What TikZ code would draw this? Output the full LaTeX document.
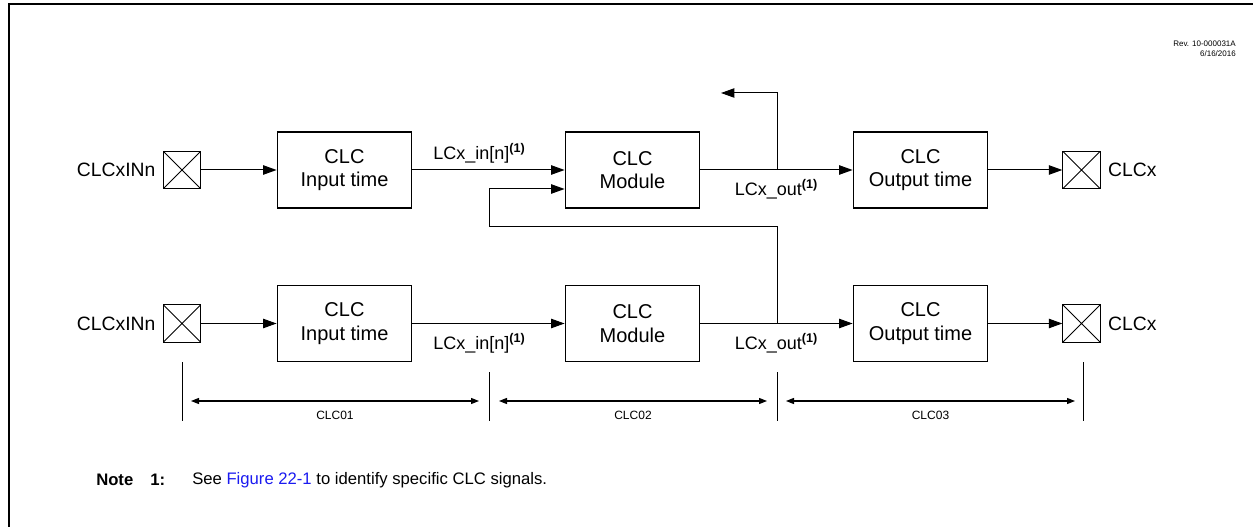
\documentclass[tikz,border=0pt]{standalone}
\usepackage{fontspec}
\setmainfont{Liberation Sans}
\usetikzlibrary{arrows.meta,positioning,calc}
\definecolor{figlink}{HTML}{1A1AF0}
\definecolor{framegrey}{HTML}{000000}

\begin{document}
\begin{tikzpicture}[x=0.75pt,y=-0.75pt,
  blk/.style={draw,line width=0.9pt,minimum width=101pt,minimum height=57pt,align=center,
              font=\fontsize{15}{17.5}\selectfont,inner sep=0pt},
  pin/.style={draw,line width=0.8pt,minimum size=28pt,inner sep=0pt,
              path picture={\draw[line width=0.6pt] (path picture bounding box.north west) -- (path picture bounding box.south east)
                                  (path picture bounding box.north east) -- (path picture bounding box.south west);}},
  pinlbl/.style={font=\fontsize{14.5}{16}\selectfont},
  sig/.style={-{Triangle[length=10pt,width=7pt]},line width=0.75pt},
  sglbl/.style={font=\fontsize{13.5}{15}\selectfont,inner sep=1pt},
  span/.style={{Triangle[length=6pt,width=4.5pt]}-{Triangle[length=6pt,width=4.5pt]},line width=0.9pt},
  tick/.style={line width=0.6pt},
  spanlbl/.style={font=\fontsize{9}{10}\selectfont}]
  \useasboundingbox (0,0) rectangle (1253,527);
  % frame
  \draw[framegrey,line width=1.5pt] (9,527) -- (9,4) -- (1253,4);
  \node[anchor=north east,align=right,inner sep=0pt,font=\fontsize{6}{7}\selectfont] (rev) at (1236,41)
       {Rev. 10-000031A\\6/16/2016};
  % upper channel
  \node[pin] (pinA) at (182,170) {};
  \node[pinlbl,left=2pt of pinA] {CLCxINn};
  \node[blk] (inA) at (344.5,170) {CLC\\Input time};
  \node[blk] (modA) at (632.5,170) {CLC\\Module};
  \node[blk] (outA) at (920.5,170) {CLC\\Output time};
  \node[pin] (poA) at (1081.5,170) {};
  \node[pinlbl,right=2pt of poA] {CLCx};
  % lower channel
  \node[pin] (pinB) at (182,323.5) {};
  \node[pinlbl,left=2pt of pinB] {CLCxINn};
  \node[blk] (inB) at (344.5,323.5) {CLC\\Input time};
  \node[blk] (modB) at (632.5,323.5) {CLC\\Module};
  \node[blk] (outB) at (920.5,323.5) {CLC\\Output time};
  \node[pin] (poB) at (1081.5,323.5) {};
  \node[pinlbl,right=2pt of poB] {CLCx};
  % junctions
  \coordinate (jA) at (777,170);
  \coordinate (jB) at (777,323.5);
  \coordinate (upA) at (721,93);
  \coordinate (fbA) at (489,227);
  \coordinate (fbB) at (489,189);
  % signals
  \draw[sig] (pinA) -- (inA);
  \draw[sig] (inA) -- node[sglbl,above=4pt,pos=0.44]{LCx\_in[n]\textsuperscript{\textbf{(1)}}} (modA);
  \draw[sig] (modA) -- node[sglbl,below=6pt]{LCx\_out\textsuperscript{\textbf{(1)}}} (outA);
  \draw[sig] (outA) -- (poA);
  \draw[sig] (jA) |- (upA);
  \draw[sig] (pinB) -- (inB);
  \draw[sig] (inB) -- node[sglbl,below=6pt,pos=0.44]{LCx\_in[n]\textsuperscript{\textbf{(1)}}} (modB);
  \draw[sig] (modB) -- node[sglbl,below=6pt]{LCx\_out\textsuperscript{\textbf{(1)}}} (outB);
  \draw[sig] (outB) -- (poB);
  \draw[sig] (jB) |- (fbA) -- (fbB) -- (fbB -| modA.west);
  % spans
  \foreach \x/\t in {182/362,489/372,777/372,1083/362}
    \draw[tick] (\x,\t) -- (\x,421);
  \foreach \a/\b/\name in {191/479/CLC01,499/767/CLC02,786/1075/CLC03}{
    \draw[span] (\a,401) -- (\b,401);
    \node[spanlbl] at ({(\a+\b)/2},415) {\name};}
  % note
  \node[anchor=west,inner sep=0pt,font=\fontsize{12.5}{15}\selectfont\bfseries] (nt) at (96,480) {Note};
  \node[anchor=west,inner sep=0pt,font=\fontsize{12.5}{15}\selectfont\bfseries] (nn) at (150,480) {1:};
  \node[anchor=west,inner sep=0pt,font=\fontsize{12.5}{15}\selectfont] (ntx) at (192,480)
       {See \textcolor{figlink}{Figure 22-1} to identify specific CLC signals.};
\end{tikzpicture}
\end{document}
